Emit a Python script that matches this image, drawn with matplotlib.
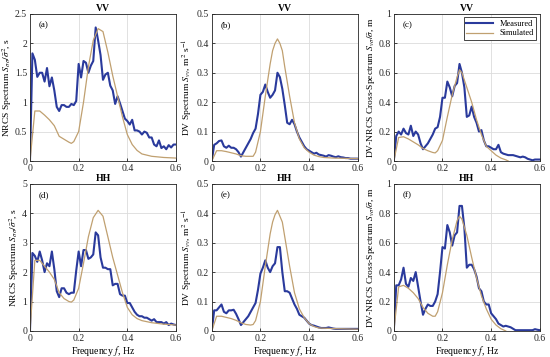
import numpy as np
import matplotlib
matplotlib.use("Agg")
import matplotlib.pyplot as plt

plt.rcParams['font.family'] = ['Liberation Serif', 'DejaVu Serif']
plt.rcParams['mathtext.fontset'] = 'stix'
plt.rcParams['font.size'] = 7

# measured spectra, 0.01 Hz step from 0 to 0.6
f_meas = np.round(np.arange(0, 0.601, 0.01), 2)

meas_a = [0, 1.83, 1.72, 1.43, 1.5, 1.5, 1.35, 1.58, 1.27, 1.42, 1.2, 0.92, 0.85, 0.95, 0.95,
          0.92, 0.92, 0.97, 0.95, 1.02, 1.65, 1.42, 1.7, 1.67, 1.5, 1.62, 1.7, 2.27, 2.05, 1.8,
          1.38, 1.47, 1.5, 1.28, 1.2, 0.97, 1.1, 0.98, 0.85, 0.72, 0.68, 0.62, 0.7, 0.52, 0.52,
          0.5, 0.45, 0.5, 0.48, 0.4, 0.4, 0.28, 0.25, 0.35, 0.22, 0.25, 0.2, 0.27, 0.23, 0.28, 0.28]
meas_b = [0, 0.055, 0.06, 0.068, 0.07, 0.05, 0.045, 0.052, 0.045, 0.045, 0.04, 0.03, 0.015,
          0.03, 0.045, 0.06, 0.075, 0.095, 0.11, 0.16, 0.225, 0.235, 0.26, 0.235, 0.215, 0.225,
          0.24, 0.30, 0.285, 0.245, 0.19, 0.13, 0.125, 0.14, 0.125, 0.1, 0.08, 0.065, 0.05, 0.04,
          0.035, 0.03, 0.025, 0.028, 0.022, 0.02, 0.018, 0.015, 0.02, 0.018, 0.015, 0.013, 0.016,
          0.013, 0.012, 0.01, 0.01, 0.008, 0.008, 0.008, 0.008]
meas_c = [0, 0.17, 0.2, 0.18, 0.22, 0.19, 0.18, 0.24, 0.17, 0.2, 0.18, 0.12, 0.08, 0.1, 0.12,
          0.15, 0.18, 0.22, 0.23, 0.3, 0.43, 0.43, 0.54, 0.5, 0.44, 0.51, 0.53, 0.66, 0.6, 0.5,
          0.3, 0.31, 0.37, 0.3, 0.26, 0.2, 0.21, 0.14, 0.1, 0.1, 0.09, 0.08, 0.08, 0.11, 0.06,
          0.05, 0.045, 0.04, 0.04, 0.04, 0.035, 0.03, 0.025, 0.03, 0.025, 0.015, 0.01, 0.005,
          0.01, 0.01, 0.01]
meas_d = [0, 2.65, 2.55, 2.35, 2.7, 2.4, 2.0, 2.3, 2.2, 2.7, 2.1, 1.35, 1.15, 1.45, 1.45, 1.3,
          1.25, 1.3, 1.3, 2.05, 2.7, 2.2, 2.75, 2.75, 2.45, 2.5, 2.6, 3.35, 3.25, 2.5, 2.15, 2.15,
          2.1, 2.1, 1.55, 1.6, 1.6, 1.25, 1.2, 1.2, 0.95, 0.95, 0.8, 0.65, 0.55, 0.5, 0.5, 0.45,
          0.45, 0.4, 0.35, 0.4, 0.3, 0.3, 0.3, 0.25, 0.3, 0.2, 0.25, 0.22, 0.2]
meas_e = [0, 0.07, 0.07, 0.08, 0.09, 0.065, 0.06, 0.07, 0.07, 0.072, 0.058, 0.04, 0.02, 0.03,
          0.04, 0.05, 0.065, 0.08, 0.095, 0.14, 0.195, 0.215, 0.24, 0.215, 0.2, 0.22, 0.23,
          0.285, 0.285, 0.2, 0.135, 0.135, 0.13, 0.11, 0.09, 0.075, 0.055, 0.05, 0.045, 0.035,
          0.025, 0.02, 0.018, 0.015, 0.012, 0.01, 0.01, 0.01, 0.012, 0.01, 0.008, 0.007, 0.007,
          0.007, 0.007, 0.007, 0.007, 0.007, 0.007, 0.007, 0.007]
meas_f = [0, 0.31, 0.31, 0.35, 0.43, 0.32, 0.3, 0.36, 0.34, 0.4, 0.3, 0.2, 0.11, 0.15, 0.18,
          0.17, 0.17, 0.2, 0.25, 0.4, 0.57, 0.56, 0.72, 0.67, 0.58, 0.65, 0.67, 0.85, 0.85, 0.7,
          0.43, 0.45, 0.45, 0.42, 0.37, 0.29, 0.27, 0.2, 0.18, 0.18, 0.12, 0.1, 0.08, 0.05, 0.04,
          0.03, 0.035, 0.03, 0.025, 0.015, 0.005, 0.005, 0.005, 0.005, 0.005, 0.005, 0.005,
          0.005, 0.012, 0.008, 0.005]

# simulated spectra
f_sim_a = [0, 0.02, 0.04, 0.06, 0.08, 0.10, 0.12, 0.14, 0.16, 0.17, 0.18, 0.20, 0.22, 0.24,
           0.26, 0.28, 0.30, 0.32, 0.34, 0.36, 0.38, 0.40, 0.42, 0.44, 0.46, 0.48, 0.50, 0.55, 0.60]
sim_a = [0, 0.85, 0.85, 0.78, 0.7, 0.6, 0.42, 0.37, 0.32, 0.3, 0.33, 0.5, 1.0, 1.6, 2.05,
         2.25, 2.2, 1.85, 1.45, 1.1, 0.75, 0.45, 0.28, 0.18, 0.12, 0.1, 0.08, 0.06, 0.05]
f_sim_b = [0, 0.02, 0.04, 0.06, 0.08, 0.10, 0.12, 0.14, 0.16, 0.17, 0.18, 0.20, 0.22, 0.24,
           0.25, 0.26, 0.27, 0.28, 0.29, 0.30, 0.32, 0.34, 0.36, 0.38, 0.40, 0.42, 0.44, 0.46,
           0.50, 0.60]
sim_b = [0, 0.035, 0.035, 0.032, 0.028, 0.024, 0.018, 0.016, 0.016, 0.016, 0.03, 0.1, 0.22,
         0.33, 0.375, 0.4, 0.415, 0.4, 0.375, 0.32, 0.22, 0.13, 0.075, 0.045, 0.03, 0.02, 0.015,
         0.012, 0.01, 0.008]
f_sim_c = [0, 0.02, 0.04, 0.06, 0.08, 0.10, 0.12, 0.14, 0.16, 0.17, 0.18, 0.20, 0.22, 0.24,
           0.26, 0.27, 0.28, 0.30, 0.32, 0.34, 0.36, 0.38, 0.40, 0.42, 0.44, 0.46, 0.47]
sim_c = [0, 0.16, 0.165, 0.15, 0.13, 0.11, 0.085, 0.07, 0.058, 0.055, 0.07, 0.14, 0.3, 0.45,
         0.57, 0.62, 0.6, 0.5, 0.4, 0.28, 0.18, 0.1, 0.07, 0.04, 0.02, 0.008, 0.0]
f_sim_d = [0, 0.02, 0.04, 0.06, 0.08, 0.10, 0.12, 0.14, 0.16, 0.17, 0.18, 0.20, 0.22, 0.24,
           0.26, 0.28, 0.30, 0.32, 0.34, 0.36, 0.38, 0.40, 0.42, 0.44, 0.46, 0.50, 0.55, 0.60]
sim_d = [0, 2.4, 2.4, 2.2, 2.0, 1.75, 1.3, 1.1, 1.0, 0.98, 1.05, 1.45, 2.3, 3.2, 3.85, 4.1,
         3.9, 3.2, 2.5, 1.9, 1.3, 0.8, 0.55, 0.42, 0.35, 0.28, 0.23, 0.2]
f_sim_e = [0, 0.02, 0.04, 0.06, 0.08, 0.10, 0.12, 0.14, 0.16, 0.17, 0.18, 0.20, 0.22, 0.24,
           0.25, 0.26, 0.27, 0.28, 0.29, 0.30, 0.32, 0.34, 0.36, 0.38, 0.40, 0.42, 0.44, 0.50, 0.60]
sim_e = [0, 0.05, 0.05, 0.046, 0.042, 0.036, 0.028, 0.022, 0.02, 0.022, 0.035, 0.1, 0.22,
         0.33, 0.37, 0.395, 0.41, 0.39, 0.37, 0.32, 0.22, 0.13, 0.075, 0.045, 0.025, 0.015,
         0.01, 0.008, 0.006]
f_sim_f = [0, 0.02, 0.04, 0.06, 0.08, 0.10, 0.12, 0.14, 0.16, 0.17, 0.18, 0.20, 0.22, 0.24,
           0.26, 0.27, 0.28, 0.30, 0.32, 0.34, 0.36, 0.38, 0.40, 0.42, 0.44, 0.46]
sim_f = [0, 0.3, 0.31, 0.29, 0.26, 0.22, 0.16, 0.12, 0.1, 0.1, 0.13, 0.26, 0.45, 0.62, 0.75,
         0.78, 0.76, 0.65, 0.5, 0.36, 0.24, 0.15, 0.08, 0.04, 0.015, 0.0]

panels = [
    ("(a)", "VV", meas_a, f_sim_a, sim_a, 2.5, [0, 0.5, 1, 1.5, 2, 2.5],
     r"NRCS Spectrum $S_{\sigma\sigma}/\bar{\sigma}^2$, s"),
    ("(b)", "VV", meas_b, f_sim_b, sim_b, 0.5, [0, 0.1, 0.2, 0.3, 0.4, 0.5],
     r"DV Spectrum $S_{vv}$, m$^2$ s$^{-1}$"),
    ("(c)", "VV", meas_c, f_sim_c, sim_c, 1, [0, 0.2, 0.4, 0.6, 0.8, 1],
     r"DV-NRCS Cross-Spectrum $S_{v\sigma}/\bar{\sigma}$, m"),
    ("(d)", "HH", meas_d, f_sim_d, sim_d, 5, [0, 1, 2, 3, 4, 5],
     r"NRCS Spectrum $S_{\sigma\sigma}/\bar{\sigma}^2$, s"),
    ("(e)", "HH", meas_e, f_sim_e, sim_e, 0.5, [0, 0.1, 0.2, 0.3, 0.4, 0.5],
     r"DV Spectrum $S_{vv}$, m$^2$ s$^{-1}$"),
    ("(f)", "HH", meas_f, f_sim_f, sim_f, 1, [0, 0.2, 0.4, 0.6, 0.8, 1],
     r"DV-NRCS Cross-Spectrum $S_{v\sigma}/\bar{\sigma}$, m"),
]

lefts = [0.0545, 0.385, 0.716]
bottoms = [0.549, 0.073]
w, h = 0.2655, 0.412

fig = plt.figure(figsize=(5.5, 3.57), dpi=100)

for i, (tag, pol, meas, fs, sim, ymax, yt, ylab) in enumerate(panels):
    ax = fig.add_axes([lefts[i % 3], bottoms[i // 3], w, h])
    ax.plot(f_meas, meas, color='#2a3a9c', lw=1.5, label='Measured')
    ax.plot(fs, sim, color='#c0a070', lw=0.9, label='Simulated')
    ax.set_xlim(0, 0.6)
    ax.set_ylim(0, ymax)
    ax.set_xticks([0, 0.2, 0.4, 0.6])
    ax.set_xticklabels(['0', '0.2', '0.4', '0.6'])
    ax.set_yticks(yt)
    ax.set_yticklabels([f"{v:g}" for v in yt])
    ax.grid(True, color='#dcdcdc', lw=0.6)
    ax.tick_params(direction='in', length=2.5, width=0.6, colors='#262626', pad=2,
                   labelsize=7)
    for s in ax.spines.values():
        s.set_color('#262626')
        s.set_linewidth(0.6)
    ax.set_title(pol, fontsize=7, fontweight='bold', pad=2)
    ax.set_ylabel(ylab, fontsize=6.8, labelpad=1)
    ax.text(0.06, 0.95, tag, transform=ax.transAxes, ha='left', va='top', fontsize=6.5)
    if i // 3 == 1:
        ax.set_xlabel(r"Frequency $f$, Hz", fontsize=7, labelpad=1)
    if i == 2:
        leg = ax.legend(loc='upper right', fontsize=6, fancybox=False, framealpha=1,
                        edgecolor='#262626', borderpad=0.3, handlelength=3.2,
                        labelspacing=0.2, borderaxespad=0.4)
        leg.get_frame().set_linewidth(0.6)

fig.savefig("out.png", dpi=100)
